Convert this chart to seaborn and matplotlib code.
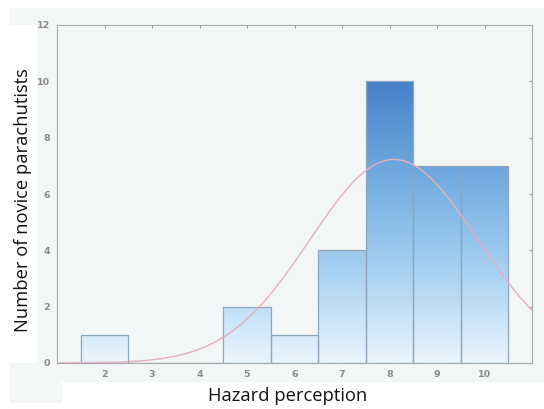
import numpy as np
import matplotlib
matplotlib.use("Agg")
import matplotlib.pyplot as plt
from matplotlib.colors import LinearSegmentedColormap
from matplotlib.patches import Rectangle
import seaborn as sns

# Hazard perception scores and number of novice parachutists per score
scores = [2, 3, 4, 5, 6, 7, 8, 9, 10]
counts = [1, 0, 0, 2, 1, 4, 10, 7, 7]
x_ticks = [2, 3, 4, 5, 6, 7, 8, 9, 10]
y_ticks = [0, 2, 4, 6, 8, 10, 12]

sns.set_theme(style="white")
plt.rcParams["font.family"] = ["DejaVu Sans"]

W, H = 544, 409
fig = plt.figure(figsize=(W / 100, H / 100), dpi=100)
fig.patch.set_facecolor("white")


def fig_rect(x0, y0, x1, y1, color):
    fig.add_artist(Rectangle((x0 / W, 1 - y1 / H), (x1 - x0) / W, (y1 - y0) / H,
                             transform=fig.transFigure, facecolor=color,
                             edgecolor="none", zorder=-10))


panel = "#f3f6f6"
fig_rect(10, 8, 544, 403, panel)
fig_rect(0, 25, 37, 363, "white")
fig_rect(62, 382, 544, 403, "white")

ax = fig.add_axes([57 / W, 1 - 363 / H, (532 - 57) / W, (363 - 25) / H])
ax.set_facecolor(panel)

sns.histplot(x=scores, weights=counts, discrete=True, ax=ax,
             color="#9cc8ee", edgecolor="#8ea5bd", linewidth=0.9, alpha=1)

# vertical blue gradient inside each bar
cmap = LinearSegmentedColormap.from_list(
    "bars", [(0.0, "#eaf5fd"), (0.3, "#acd3f2"), (0.6, "#7ab2e3"), (1.0, "#4681ca")])
grad = np.linspace(0, 1, 256).reshape(-1, 1)
for p in ax.patches:
    p.set_facecolor("none")
    im = ax.imshow(grad, extent=(1, 11, 0, 10), origin="lower", aspect="auto",
                   cmap=cmap, vmin=0, vmax=1, zorder=p.get_zorder() - 0.1)
    im.set_clip_path(p)
ax.set_xlim(1, 11)
ax.set_ylim(0, 12)

# fitted normal curve scaled to counts
vals = np.repeat(scores, counts)
mu, sd = vals.mean(), vals.std(ddof=1)
xs = np.linspace(1, 11, 300)
ys = len(vals) / (sd * np.sqrt(2 * np.pi)) * np.exp(-(xs - mu) ** 2 / (2 * sd ** 2))
sns.lineplot(x=xs, y=ys, ax=ax, color="#e4afbd", linewidth=1.0, zorder=5)

ax.set_xticks(x_ticks)
ax.set_yticks(y_ticks)
ax.tick_params(axis="both", which="both", direction="in", length=2.5, width=0.7,
               color="#9a9a9a", labelsize=6.8, labelcolor="#8a8a8a",
               top=True, right=True, pad=5)
for lab in ax.get_xticklabels() + ax.get_yticklabels():
    lab.set_fontweight("bold")
for s in ax.spines.values():
    s.set_visible(True)
    s.set_color("#a8a8a8")
    s.set_linewidth(0.8)

ax.set_xlabel("")
ax.set_ylabel("")
fig.text(288 / W, 1 - 396 / H, "Hazard perception", ha="center", va="center",
         fontsize=13.2, family="Open Sans", color="#111111")
fig.text(23 / W, 1 - 200 / H, "Number of novice parachutists", ha="center",
         va="center", rotation=90, fontsize=13.2, family="Open Sans", color="#111111")

fig.savefig("out.png", dpi=100)
